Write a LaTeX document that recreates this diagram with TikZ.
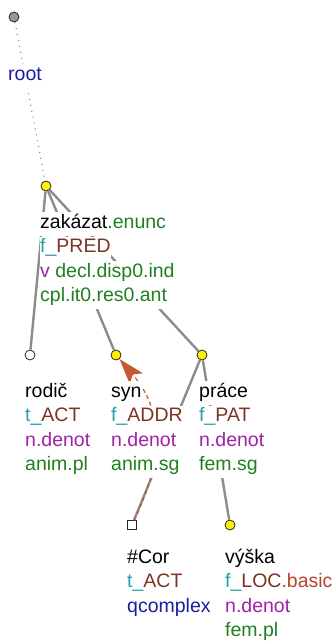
\documentclass[tikz,border=0pt]{standalone}
\usepackage{fontspec}
\setmainfont{Liberation Sans}
\usetikzlibrary{arrows.meta,positioning}

\definecolor{rootblue}{HTML}{1C1CA0}
\definecolor{functeal}{HTML}{20A0A8}
\definecolor{funcbrown}{HTML}{7A3424}
\definecolor{subbrown}{HTML}{B8442C}
\definecolor{grampurple}{HTML}{A020A8}
\definecolor{gramgreen}{HTML}{208020}
\definecolor{edgegray}{HTML}{8C8C8C}
\definecolor{corefred}{HTML}{C4582E}

\newcommand{\tc}[1]{\textcolor{functeal}{#1}}
\newcommand{\fb}[1]{\textcolor{funcbrown}{#1}}
\newcommand{\pu}[1]{\textcolor{grampurple}{#1}}
\newcommand{\gr}[1]{\textcolor{gramgreen}{#1}}

\tikzset{
  tnode/.style={circle, draw=black!85, fill=yellow, minimum size=10pt, inner sep=0pt, line width=0.8pt},
  gennode/.style={tnode, fill=white},
  rootnode/.style={tnode, fill=edgegray!90},
  qnode/.style={rectangle, draw=black!85, fill=white, minimum size=9pt, inner sep=0pt, line width=0.8pt},
  edge/.style={draw=edgegray, line width=2.4pt},
  rootedge/.style={draw=edgegray, line width=1.2pt, dash pattern=on 1pt off 5pt},
  coref/.style={draw=corefred, line width=1.2pt, dash pattern=on 4pt off 3pt,
    -{Stealth[length=26pt, width=17pt, inset=6pt, fill=corefred]}},
  % one text row of a label, on a white strip
  row/.style={anchor=north west, inner sep=0pt, fill=white, text height=16pt, text depth=8pt,
    font=\fontsize{19.5}{24}\selectfont},
  under/.style={below=0pt of #1.south west, anchor=north west}
}

\begin{document}
\begin{tikzpicture}[x=1pt, y=-1pt]
  \useasboundingbox (0,0) rectangle (334,644);

  % nodes
  \node[rootnode] (root) at (14,17) {};
  \node[tnode] (pred) at (46,186) {};
  \node[gennode] (rodic) at (30,355) {};
  \node[tnode] (syn) at (116,355) {};
  \node[tnode] (prace) at (202,355) {};
  \node[qnode] (cor) at (132,525) {};
  \node[tnode] (vyska) at (230,525) {};

  % edges
  \draw[rootedge] (root) -- (pred);
  \draw[edge] (pred) -- (rodic);
  \draw[edge] (pred) -- (syn);
  \draw[edge] (pred) -- (prace);
  \draw[edge] (prace) -- (cor);
  \draw[edge] (prace) -- (vyska);

  % coreference
  \draw[coref] (cor) .. controls (158,470) and (170,418) .. (syn);

  % labels
  \node[row] (root1) at (8,64) {\textcolor{rootblue}{root}};

  \node[row] (pred1) at (40,212) {zakázat\gr{.enunc}};
  \node[row, under=pred1] (pred2) {\tc{f\_}\fb{PRED}};
  \node[row, under=pred2] (pred3) {\pu{v} \gr{decl.disp0.ind}};
  \node[row, under=pred3] (pred4) {\gr{cpl.it0.res0.ant}};

  \node[row] (rodic1) at (25,381) {rodič};
  \node[row, under=rodic1] (rodic2) {\tc{t\_}\fb{ACT}};
  \node[row, under=rodic2] (rodic3) {\pu{n.denot}};
  \node[row, under=rodic3] (rodic4) {\gr{anim.pl}};

  \node[row] (syn1) at (111,381) {syn};
  \node[row, under=syn1] (syn2) {\tc{f\_}\fb{ADDR}};
  \node[row, under=syn2] (syn3) {\pu{n.denot}};
  \node[row, under=syn3] (syn4) {\gr{anim.sg}};

  \node[row] (prace1) at (199,381) {práce};
  \node[row, under=prace1] (prace2) {\tc{f\_}\fb{PAT}};
  \node[row, under=prace2] (prace3) {\pu{n.denot}};
  \node[row, under=prace3] (prace4) {\gr{fem.sg}};

  \node[row] (cor1) at (127,547) {\#Cor};
  \node[row, under=cor1] (cor2) {\tc{t\_}\fb{ACT}};
  \node[row, under=cor2] (cor3) {\textcolor{rootblue}{qcomplex}};

  \node[row] (vyska1) at (225,547) {výška};
  \node[row, under=vyska1] (vyska2) {\tc{f\_}\fb{LOC}\textcolor{subbrown}{.basic}};
  \node[row, under=vyska2] (vyska3) {\pu{n.denot}};
  \node[row, under=vyska3] (vyska4) {\gr{fem.pl}};
\end{tikzpicture}
\end{document}
